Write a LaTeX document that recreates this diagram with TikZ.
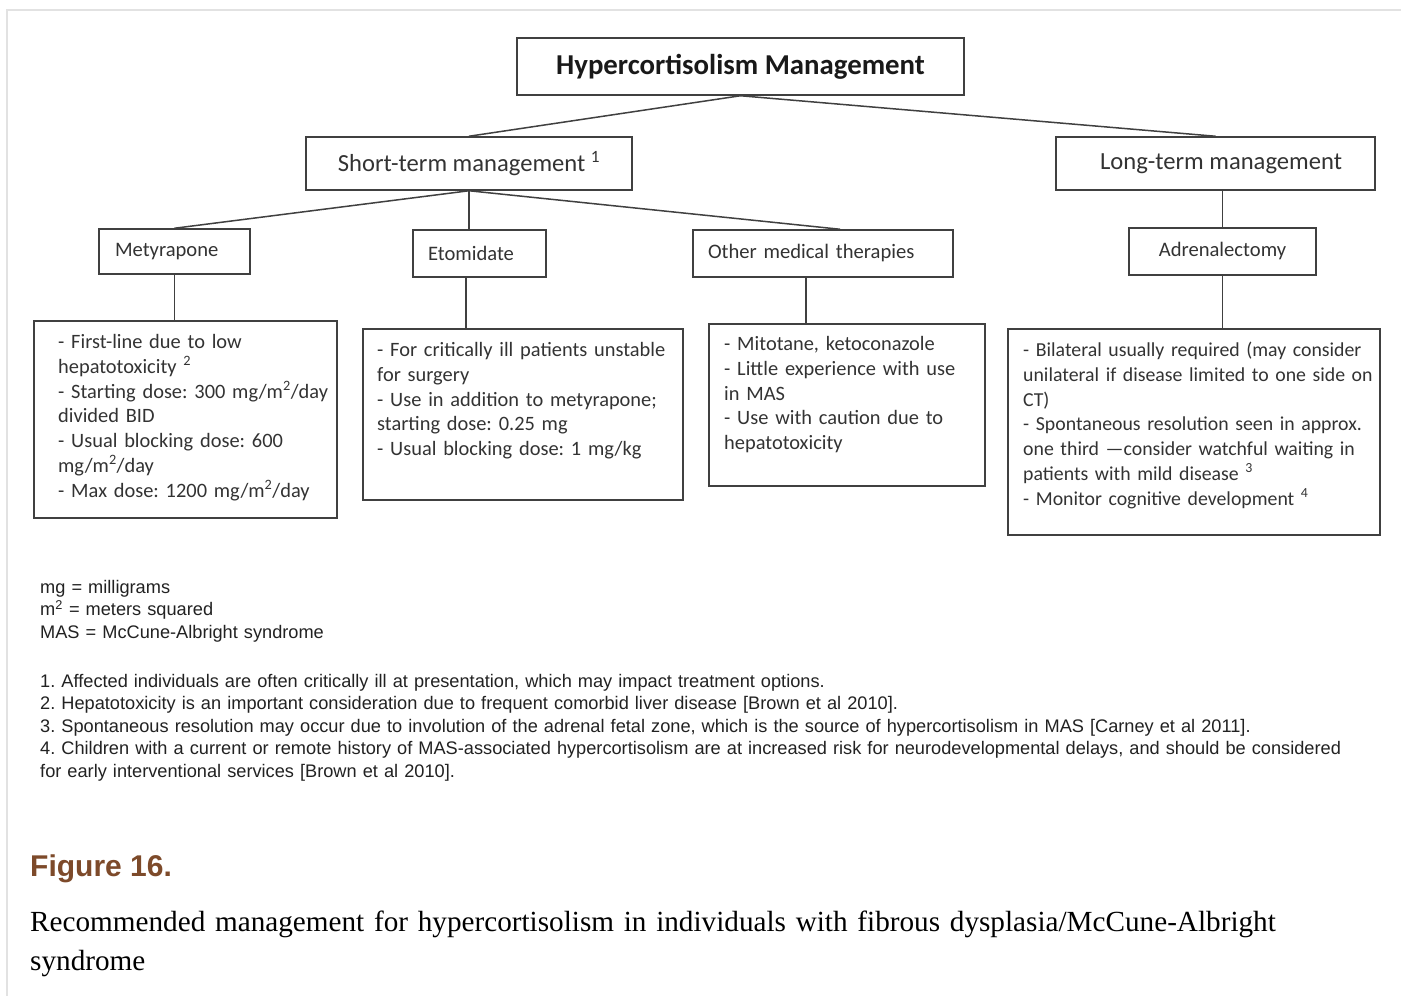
\documentclass[tikz,border=0pt]{standalone}
\usepackage{fontspec}
\setmainfont{Carlito}
\newfontfamily\arialf{Liberation Sans}
\newfontfamily\timesf{Liberation Serif}
\frenchspacing
\definecolor{boxc}{HTML}{404040}
\definecolor{txtc}{HTML}{333333}
\definecolor{notec}{HTML}{222222}
\definecolor{figbrown}{HTML}{7D4A2A}
\definecolor{framec}{HTML}{E2E2E2}
\tikzset{
  box/.style={draw=boxc, line width=1.5pt, inner sep=0pt, text=txtc},
  conn/.style={draw=boxc, line width=1.5pt},
  headbox/.style={box, font=\fontsize{20.6pt}{24pt}\selectfont},
  midbox/.style={box, font=\fontsize{24.6pt}{28pt}\selectfont},
  dettext/.style={anchor=base west, inner sep=0pt, text width=500pt, align=left, text=txtc,
     font=\frenchspacing\fontsize{20.4pt}{24.8pt}\selectfont},
  notetext/.style={anchor=base west, inner sep=0pt, text width=1360pt, align=left, text=notec,
     font=\frenchspacing\arialf\fontsize{18.2pt}{22.5pt}\selectfont},
}
\begin{document}
\begin{tikzpicture}[x=1pt,y=-1pt]
\useasboundingbox (0,0) rectangle (1401,996);
\fill[white] (0,0) rectangle (1401,996);
\draw[framec, line width=2pt] (7,996) -- (7,10) -- (1401,10);

% top level
\node[box, minimum width=447pt, minimum height=57pt, text=black!90,
      font=\bfseries\fontsize{28.8pt}{32pt}\selectfont] (title) at (740.5,66.5) {Hypercortisolism Management};
\node[midbox, minimum width=326pt, minimum height=53pt] (short) at (469,163.5) {Short-term management \textsuperscript{1}};
\node[midbox, minimum width=319pt, minimum height=53pt] (long) at (1215.5,163.5) {\hspace*{11pt}Long-term management};

% headings
\node[headbox, minimum width=151pt, minimum height=45pt, text width=119pt, inner xsep=16pt, align=left] (met) at (174.5,251.5) {Metyrapone};
\node[headbox, minimum width=133pt, minimum height=47pt, text width=103pt, inner xsep=15pt, align=left] (eto) at (479.5,253.5) {Etomidate};
\node[headbox, minimum width=260pt, minimum height=47pt, text width=230pt, inner xsep=15pt, align=left] (oth) at (823,253.5) {Other medical therapies};
\node[headbox, minimum width=187pt, minimum height=47pt] (adr) at (1222.5,251.5) {Adrenalectomy};

% detail boxes
\node[box, minimum width=303pt, minimum height=197pt] (metD) at (185.5,419.5) {};
\node[box, minimum width=320pt, minimum height=171pt] (etoD) at (523,414.5) {};
\node[box, minimum width=276pt, minimum height=162pt] (othD) at (847,405) {};
\node[box, minimum width=372pt, minimum height=206pt] (adrD) at (1194,432) {};

\node[dettext] (metT) at (58,348.5) {- First-line due to low\\hepatotoxicity \textsuperscript{2}\\- Starting dose: 300 mg/m\textsuperscript{2}/day\\divided BID\\- Usual blocking dose: 600\\mg/m\textsuperscript{2}/day\\- Max dose: 1200 mg/m\textsuperscript{2}/day};
\node[dettext] (etoT) at (377,356.5) {- For critically ill patients unstable\\for surgery\\- Use in addition to metyrapone;\\starting dose: 0.25 mg\\- Usual blocking dose: 1 mg/kg};
\node[dettext] (othT) at (724,350.5) {- Mitotane, ketoconazole\\- Little experience with use\\in MAS\\- Use with caution due to\\hepatotoxicity};
\node[dettext, font=\frenchspacing\fontsize{19.8pt}{24.8pt}\selectfont] (adrT) at (1023,356.5) {- Bilateral usually required (may consider\\unilateral if disease limited to one side on\\CT)\\- Spontaneous resolution seen in approx.\\one third —consider watchful waiting in\\patients with mild disease \textsuperscript{3}\\- Monitor cognitive development \textsuperscript{4}};

% connectors
\draw[conn] (title.south) -- (short.north);
\draw[conn] (title.south) -- (long.north);
\draw[conn] (short.south) -- (met.north);
\draw[conn] (short.south) -- (short.south |- eto.north);
\draw[conn] (short.south) -- ([xshift=17pt]oth.north);
\draw[conn] (met.south) -- (met.south |- metD.north);
\draw[conn] ([xshift=-13.5pt]eto.south) -- ([xshift=-13.5pt]eto.south |- etoD.north);
\draw[conn] ([xshift=-17pt]oth.south) -- ([xshift=-17pt]oth.south |- othD.north);
\draw[conn] (long.south -| adr.north) -- (adr.north);
\draw[conn] (adr.south) -- (adr.south |- adrD.north);

% notes
\node[notetext] (abbr) at (40,593) {mg = milligrams\\m\textsuperscript{2} = meters squared\\MAS = McCune-Albright syndrome};
\node[notetext] (notes) at (40,687) {1. Affected individuals are often critically ill at presentation, which may impact treatment options.\\2. Hepatotoxicity is an important consideration due to frequent comorbid liver disease [Brown et al 2010].\\3. Spontaneous resolution may occur due to involution of the adrenal fetal zone, which is the source of hypercortisolism in MAS [Carney et al 2011].\\4. Children with a current or remote history of MAS-associated hypercortisolism are at increased risk for neurodevelopmental delays, and should be considered\\for early interventional services [Brown et al 2010].};

% caption
\node[anchor=base west, inner sep=0pt, text=figbrown, font=\arialf\bfseries\fontsize{30pt}{34pt}\selectfont] (fig) at (30,876) {Figure 16.};
\node[anchor=base west, inner sep=0pt, text width=1360pt, align=left, text=black,
      font=\frenchspacing\timesf\fontsize{29.2pt}{39pt}\selectfont] (cap) at (30,931) {Recommended management for hypercortisolism in individuals with fibrous dysplasia/McCune-Albright\\syndrome};
\end{tikzpicture}
\end{document}
